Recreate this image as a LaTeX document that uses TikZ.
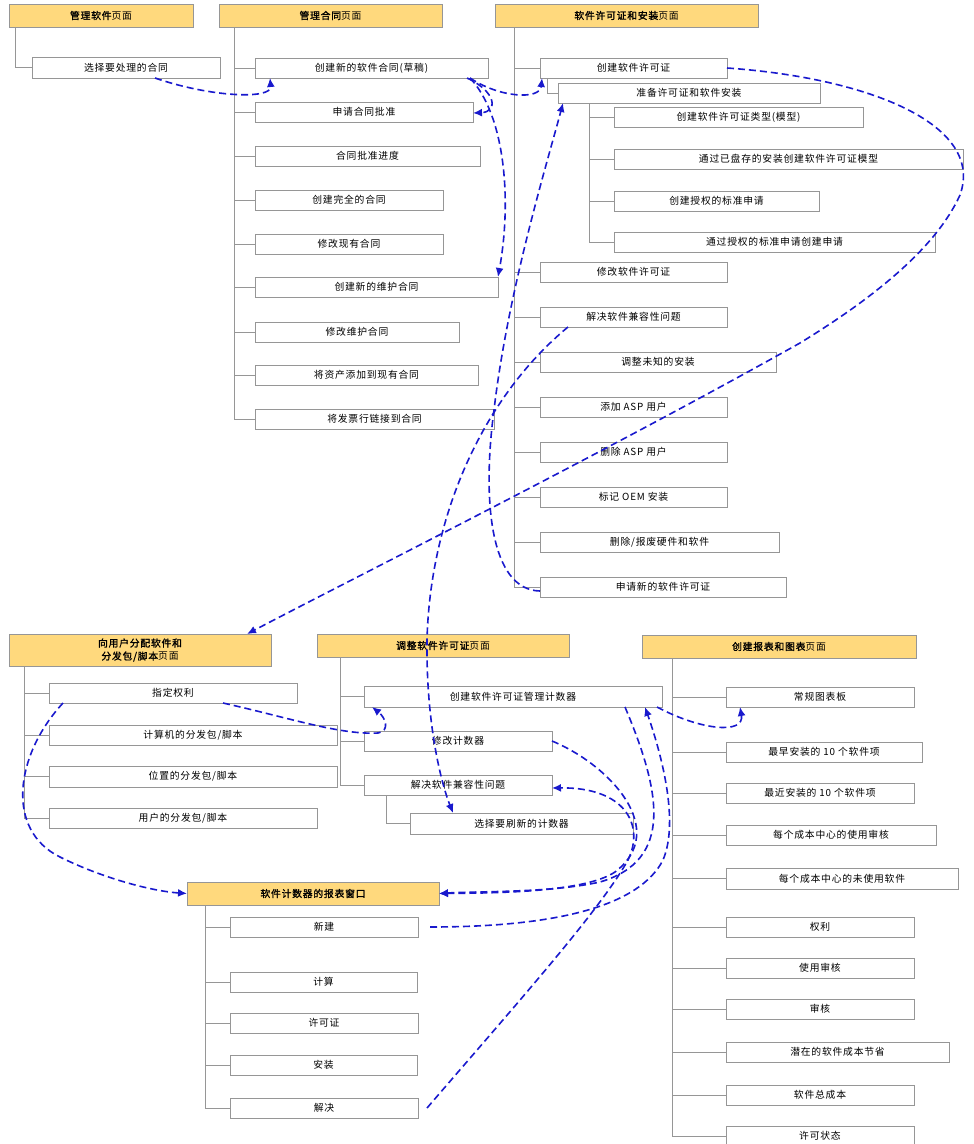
\documentclass[tikz,border=0pt]{standalone}
\usepackage{fontspec}
\setmainfont{Noto Sans CJK SC}[AutoFakeBold=1.5,LetterSpace=8]
\usetikzlibrary{arrows.meta}
\definecolor{hdrfill}{RGB}{255,217,125}
\definecolor{boxline}{RGB}{150,150,150}
\definecolor{treeline}{RGB}{150,150,150}
\definecolor{arrowblue}{RGB}{25,25,205}
\newcommand{\bx}[7][box]{\node[#1, minimum width={(#5-#3)*1pt}, minimum height={(#6-#4)*1pt}] (#2) at ({(#3+#5)/2},{(#4+#6)/2}) {#7};}
\tikzset{
  box/.style={draw=boxline, fill=white, line width=1pt, inner sep=0pt, outer sep=0pt, font=\fontsize{9.8}{11}\selectfont},
  hdr/.style={box, fill=hdrfill, align=center, font=\fontsize{9.8}{13}\selectfont},
  tree/.style={draw=treeline, line width=1pt},
  link/.style={draw=arrowblue, line width=1.6pt, dash pattern=on 7pt off 4pt, -{Latex[length=9pt,width=8pt]}}
}
\begin{document}
\begin{tikzpicture}[x=1pt,y=-1pt]
\useasboundingbox (0,0) rectangle (974,1144);
% headers
\bx[hdr]{h1}{9}{4}{193}{27}{{\bfseries 管理软件}页面}
\bx[hdr]{h2}{219}{4}{442}{27}{{\bfseries 管理合同}页面}
\bx[hdr]{h3}{495}{4}{758}{27}{{\bfseries 软件许可证和安装}页面}
\bx[hdr]{h4}{9}{634}{271}{666}{{\bfseries 向用户分配软件和}\\{\bfseries 分发包/脚本}页面}
\bx[hdr]{h5}{317}{634}{569}{657}{{\bfseries 调整软件许可证}页面}
\bx[hdr]{h6}{642}{635}{916}{658}{{\bfseries 创建报表和图表}页面}
\bx[hdr]{h7}{187}{882}{439}{905}{{\bfseries 软件计数器的报表窗口}}
% boxes
\bx{a1}{32}{57}{220}{78}{选择要处理的合同}
\bx{b1}{255}{58}{488}{78}{创建新的软件合同(草稿)}
\bx{b2}{255}{102}{473}{122}{申请合同批准}
\bx{b3}{255}{146}{480}{166}{合同批准进度}
\bx{b4}{255}{190}{443}{210}{创建完全的合同}
\bx{b5}{255}{234}{443}{254}{修改现有合同}
\bx{b6}{255}{277}{498}{297}{创建新的维护合同}
\bx{b7}{255}{322}{459}{342}{修改维护合同}
\bx{b8}{255}{365}{478}{385}{将资产添加到现有合同}
\bx{b9}{255}{409}{494}{429}{将发票行链接到合同}
\bx{c1}{540}{58}{727}{78}{创建软件许可证}
\bx{c2}{558}{83}{820}{103}{准备许可证和软件安装}
\bx{c3}{614}{107}{863}{127}{创建软件许可证类型(模型)}
\bx{c4}{614}{149}{963}{169}{通过已盘存的安装创建软件许可证模型}
\bx{c5}{614}{191}{819}{211}{创建授权的标准申请}
\bx{c6}{614}{232}{935}{252}{通过授权的标准申请创建申请}
\bx{c7}{540}{262}{727}{282}{修改软件许可证}
\bx{c8}{540}{307}{727}{327}{解决软件兼容性问题}
\bx{c9}{540}{352}{776}{372}{调整未知的安装}
\bx{c10}{540}{397}{727}{417}{添加 ASP 用户}
\bx{c11}{540}{442}{727}{462}{删除 ASP 用户}
\bx{c12}{540}{487}{727}{507}{标记 OEM 安装}
\bx{c13}{540}{532}{779}{552}{删除/报废硬件和软件}
\bx{c14}{540}{577}{786}{597}{申请新的软件许可证}
\bx{d1}{49}{683}{297}{703}{指定权利}
\bx{d2}{49}{725}{337}{745}{计算机的分发包/脚本}
\bx{d3}{49}{766}{337}{787}{位置的分发包/脚本}
\bx{d4}{49}{808}{317}{828}{用户的分发包/脚本}
\bx{e1}{364}{686}{662}{707}{创建软件许可证管理计数器}
\bx{e2}{364}{731}{552}{751}{修改计数器}
\bx{e3}{364}{775}{552}{795}{解决软件兼容性问题}
\bx{e4}{410}{813}{633}{834}{选择要刷新的计数器}
\bx{f1}{726}{687}{914}{707}{常规图表板}
\bx{f2}{726}{742}{922}{762}{最早安装的 10 个软件项}
\bx{f3}{726}{783}{914}{803}{最近安装的 10 个软件项}
\bx{f4}{726}{825}{936}{845}{每个成本中心的使用审核}
\bx{f5}{726}{868}{958}{889}{每个成本中心的未使用软件}
\bx{f6}{726}{917}{914}{937}{权利}
\bx{f7}{726}{958}{914}{978}{使用审核}
\bx{f8}{726}{999}{914}{1019}{审核}
\bx{f9}{726}{1042}{949}{1062}{潜在的软件成本节省}
\bx{f10}{726}{1085}{914}{1105}{软件总成本}
\bx{f11}{726}{1126}{914}{1146}{许可状态}
\bx{g1}{230}{917}{418}{937}{新建}
\bx{g2}{230}{972}{417}{992}{计算}
\bx{g3}{230}{1013}{418}{1033}{许可证}
\bx{g4}{230}{1055}{417}{1075}{安装}
\bx{g5}{230}{1098}{418}{1118}{解决}
% tree lines
\draw[tree] ([xshift=6pt]h1.south west) |- (a1.west);
\foreach \n in {b1,b2,b3,b4,b5,b6,b7,b8,b9} \draw[tree] ([xshift=15pt]h2.south west) |- (\n.west);
\foreach \n in {c1,c7,c8,c9,c10,c11,c12,c13,c14} \draw[tree] ([xshift=19pt]h3.south west) |- (\n.west);
\draw[tree] ([xshift=7pt]c1.south west) |- (c2.west);
\foreach \n in {c3,c4,c5,c6} \draw[tree] ([xshift=31pt]c2.south west) |- (\n.west);
\foreach \n in {d1,d2,d3,d4} \draw[tree] ([xshift=15pt]h4.south west) |- (\n.west);
\foreach \n in {e1,e2,e3} \draw[tree] ([xshift=23pt]h5.south west) |- (\n.west);
\draw[tree] ([xshift=22pt]e3.south west) |- (e4.west);
\foreach \n in {f1,f2,f3,f4,f5,f6,f7,f8,f9,f10,f11} \draw[tree] ([xshift=30pt]h6.south west) |- (\n.west);
\foreach \n in {g1,g2,g3,g4,g5} \draw[tree] ([xshift=18pt]h7.south west) |- (\n.west);
% links
\draw[link] ([xshift=123pt]a1.south west) .. controls (210,97) and (272,100) .. ([xshift=15pt]b1.south west);
\draw[link] ([xshift=-21pt]b1.south east) .. controls (497,92) and (498,112) .. ([yshift=-1pt]b2.east);
\draw[link] ([xshift=-18pt]b1.south east) .. controls (500,98) and (540,100) .. ([xshift=2pt]c1.south west);
\draw[link] ([xshift=-18pt]b1.south east) .. controls (505,115) and (512,200) .. (b6.north east);
\draw[link] ([yshift=-4pt]c14.west) .. controls (490,590) and (482,500) .. (494,410) .. controls (508,290) and (548,160) .. ([xshift=5pt]c2.south west);
\draw[link] ([xshift=28pt]c8.south west) .. controls (480,400) and (430,520) .. (427,640) .. controls (426,720) and (440,780) .. ([xshift=43pt]e4.north west);
\draw[link] (c1.east) .. controls (870,78) and (985,125) .. (960,195) .. controls (935,250) and (870,300) .. (800,343) .. controls (600,455) and (350,580) .. ([xshift=-24pt]h4.north east);
\draw[link] ([xshift=174pt]d1.south west) .. controls (290,718) and (340,735) .. (378,733) .. controls (390,731) and (386,718) .. ([xshift=8pt]e1.south west);
\draw[link] ([xshift=14pt]d1.south west) .. controls (15,755) and (5,830) .. (60,857) .. controls (100,877) and (150,891) .. (h7.west);
\draw[link] ([xshift=-5pt]e1.south east) .. controls (700,730) and (745,735) .. ([xshift=14pt]f1.south west);
\draw[link] ([xshift=-37pt]e1.south east) .. controls (660,790) and (675,860) .. (600,882) .. controls (550,893) and (480,891) .. (h7.east);
\draw[link] (e2.east) .. controls (610,765) and (670,830) .. (615,872) .. controls (585,892) and (500,893) .. (h7.east);
\draw[link] ([xshift=12pt]g1.east) .. controls (560,927) and (640,905) .. (663,860) .. controls (680,820) and (660,750) .. ([xshift=-17pt]e1.south east);
\draw[link] ([xshift=9pt]g5.east) .. controls (520,1000) and (600,910) .. (628,860) .. controls (645,825) and (625,787) .. ([yshift=-3pt]e3.east);
\end{tikzpicture}
\end{document}
